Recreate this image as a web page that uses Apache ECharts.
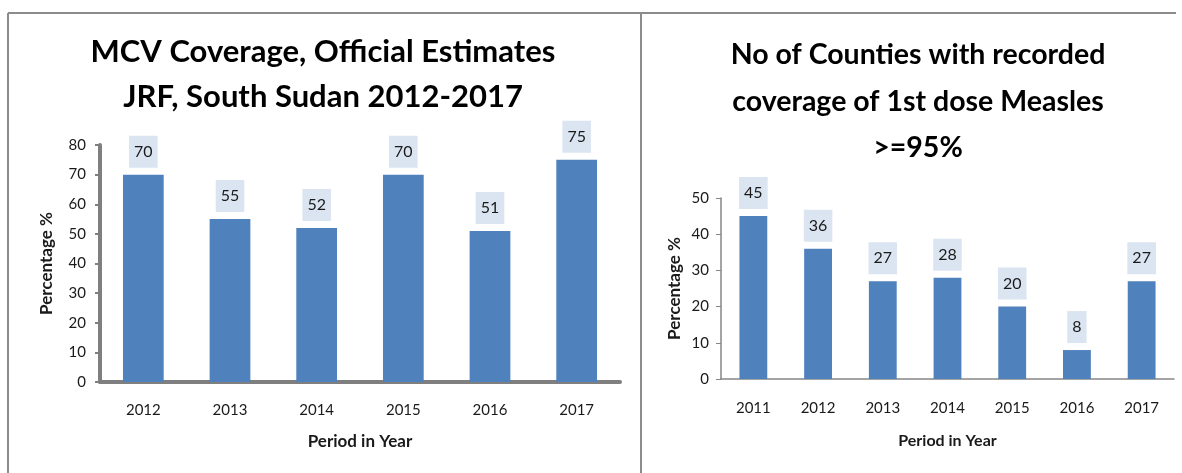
<!DOCTYPE html>
<html>
<head>
<meta charset="utf-8">
<script src="https://cdn.jsdelivr.net/npm/echarts@6/dist/echarts.min.js"></script>
<style>
  html, body { margin: 0; padding: 0; background: #fff; }
  #chart { width: 1182px; height: 473px; }
</style>
</head>
<body>
<div id="chart"></div>
<script>
// left chart: MCV coverage (official estimates)
var mcvYears = ["2012", "2013", "2014", "2015", "2016", "2017"];
var mcvValues = [70, 55, 52, 70, 51, 75];
// right chart: counties with 1st dose measles >= 95%
var countyYears = ["2011", "2012", "2013", "2014", "2015", "2016", "2017"];
var countyValues = [45, 36, 27, 28, 20, 8, 27];

var font = "Lato";
var barColor = "#4f81bd";
var labelBg = "#dbe5f1";
var textColor = "#1a1a1a";

var myChart = echarts.init(document.getElementById("chart"));

function barLabel() {
  return {
    show: true,
    position: "top",
    distance: 7,
    color: textColor,
    fontFamily: font,
    fontSize: 16,
    lineHeight: 18,
    backgroundColor: labelBg,
    padding: [7, 5, 7, 5],
  };
}

function nameStyle(size) {
  return { fontFamily: font, fontSize: size, fontWeight: "bold", color: textColor };
}

var option = {
  animation: false,
  textStyle: { fontFamily: font },
  title: [
    {
      text: "MCV Coverage, Official Estimates\nJRF, South Sudan 2012-2017",
      left: 323,
      top: 29,
      textAlign: "center",
      padding: 0,
      textStyle: {
        fontFamily: font,
        fontSize: 31,
        fontWeight: "bold",
        lineHeight: 45,
        color: "#000",
      },
    },
    {
      text: "No of Counties with recorded\ncoverage of 1st dose Measles\n>=95%",
      left: 918,
      top: 32,
      textAlign: "center",
      padding: 0,
      textStyle: {
        fontFamily: font,
        fontSize: 28.5,
        fontWeight: "bold",
        lineHeight: 46.5,
        color: "#000",
      },
    },
  ],
  grid: [
    { left: 100, right: 562, top: 145, bottom: 91 },
    { left: 721, right: 8, top: 198, bottom: 94 },
  ],
  xAxis: [
    {
      type: "category",
      gridIndex: 0,
      data: mcvYears,
      name: "Period in Year",
      nameLocation: "middle",
      nameGap: 51,
      nameTextStyle: nameStyle(17),
      axisLine: { lineStyle: { color: "#7f7f7f", width: 4 } },
      axisTick: { alignWithLabel: true, length: 3, lineStyle: { color: "#7f7f7f", width: 2 } },
      axisLabel: { margin: 21, fontFamily: font, fontSize: 15, color: textColor },
    },
    {
      type: "category",
      gridIndex: 1,
      data: countyYears,
      name: "Period in Year",
      nameLocation: "middle",
      nameGap: 54,
      nameTextStyle: nameStyle(16),
      axisLine: { lineStyle: { color: "#868686", width: 1.5 } },
      axisTick: { show: false },
      axisLabel: { margin: 22, fontFamily: font, fontSize: 15, color: textColor },
    },
  ],
  yAxis: [
    {
      type: "value",
      gridIndex: 0,
      min: 0,
      max: 80,
      interval: 10,
      name: "Percentage %",
      nameLocation: "middle",
      nameGap: 45,
      nameTextStyle: nameStyle(17),
      axisLine: { show: true, lineStyle: { color: "#7f7f7f", width: 4 } },
      axisTick: { show: true, length: 5, lineStyle: { color: "#7f7f7f", width: 2 } },
      axisLabel: { margin: 14, fontFamily: font, fontSize: 15, color: textColor },
      splitLine: { show: false },
    },
    {
      type: "value",
      gridIndex: 1,
      min: 0,
      max: 50,
      interval: 10,
      name: "Percentage %",
      nameLocation: "middle",
      nameGap: 38,
      nameTextStyle: nameStyle(17),
      axisLine: { show: true, lineStyle: { color: "#868686", width: 1.5 } },
      axisTick: { show: true, length: 5, lineStyle: { color: "#868686" } },
      axisLabel: { margin: 12, fontFamily: font, fontSize: 15, color: textColor },
      splitLine: { show: false },
    },
  ],
  series: [
    {
      type: "bar",
      xAxisIndex: 0,
      yAxisIndex: 0,
      data: mcvValues,
      barWidth: "47%",
      itemStyle: { color: barColor },
      label: barLabel(),
    },
    {
      type: "bar",
      xAxisIndex: 1,
      yAxisIndex: 1,
      data: countyValues,
      barWidth: "43%",
      itemStyle: { color: barColor },
      label: barLabel(),
    },
  ],
  // panel frame lines
  graphic: [
    { type: "line", shape: { x1: 8, y1: 13, x2: 1176, y2: 13 }, style: { stroke: "#8c8c8c", lineWidth: 2 } },
    { type: "line", shape: { x1: 8, y1: 13, x2: 8, y2: 473 }, style: { stroke: "#8c8c8c", lineWidth: 2 } },
    { type: "line", shape: { x1: 641, y1: 13, x2: 641, y2: 473 }, style: { stroke: "#8c8c8c", lineWidth: 2 } },
  ],
};

myChart.setOption(option);
window.addEventListener("resize", () => {
  myChart.resize();
});
</script>
</body>
</html>
